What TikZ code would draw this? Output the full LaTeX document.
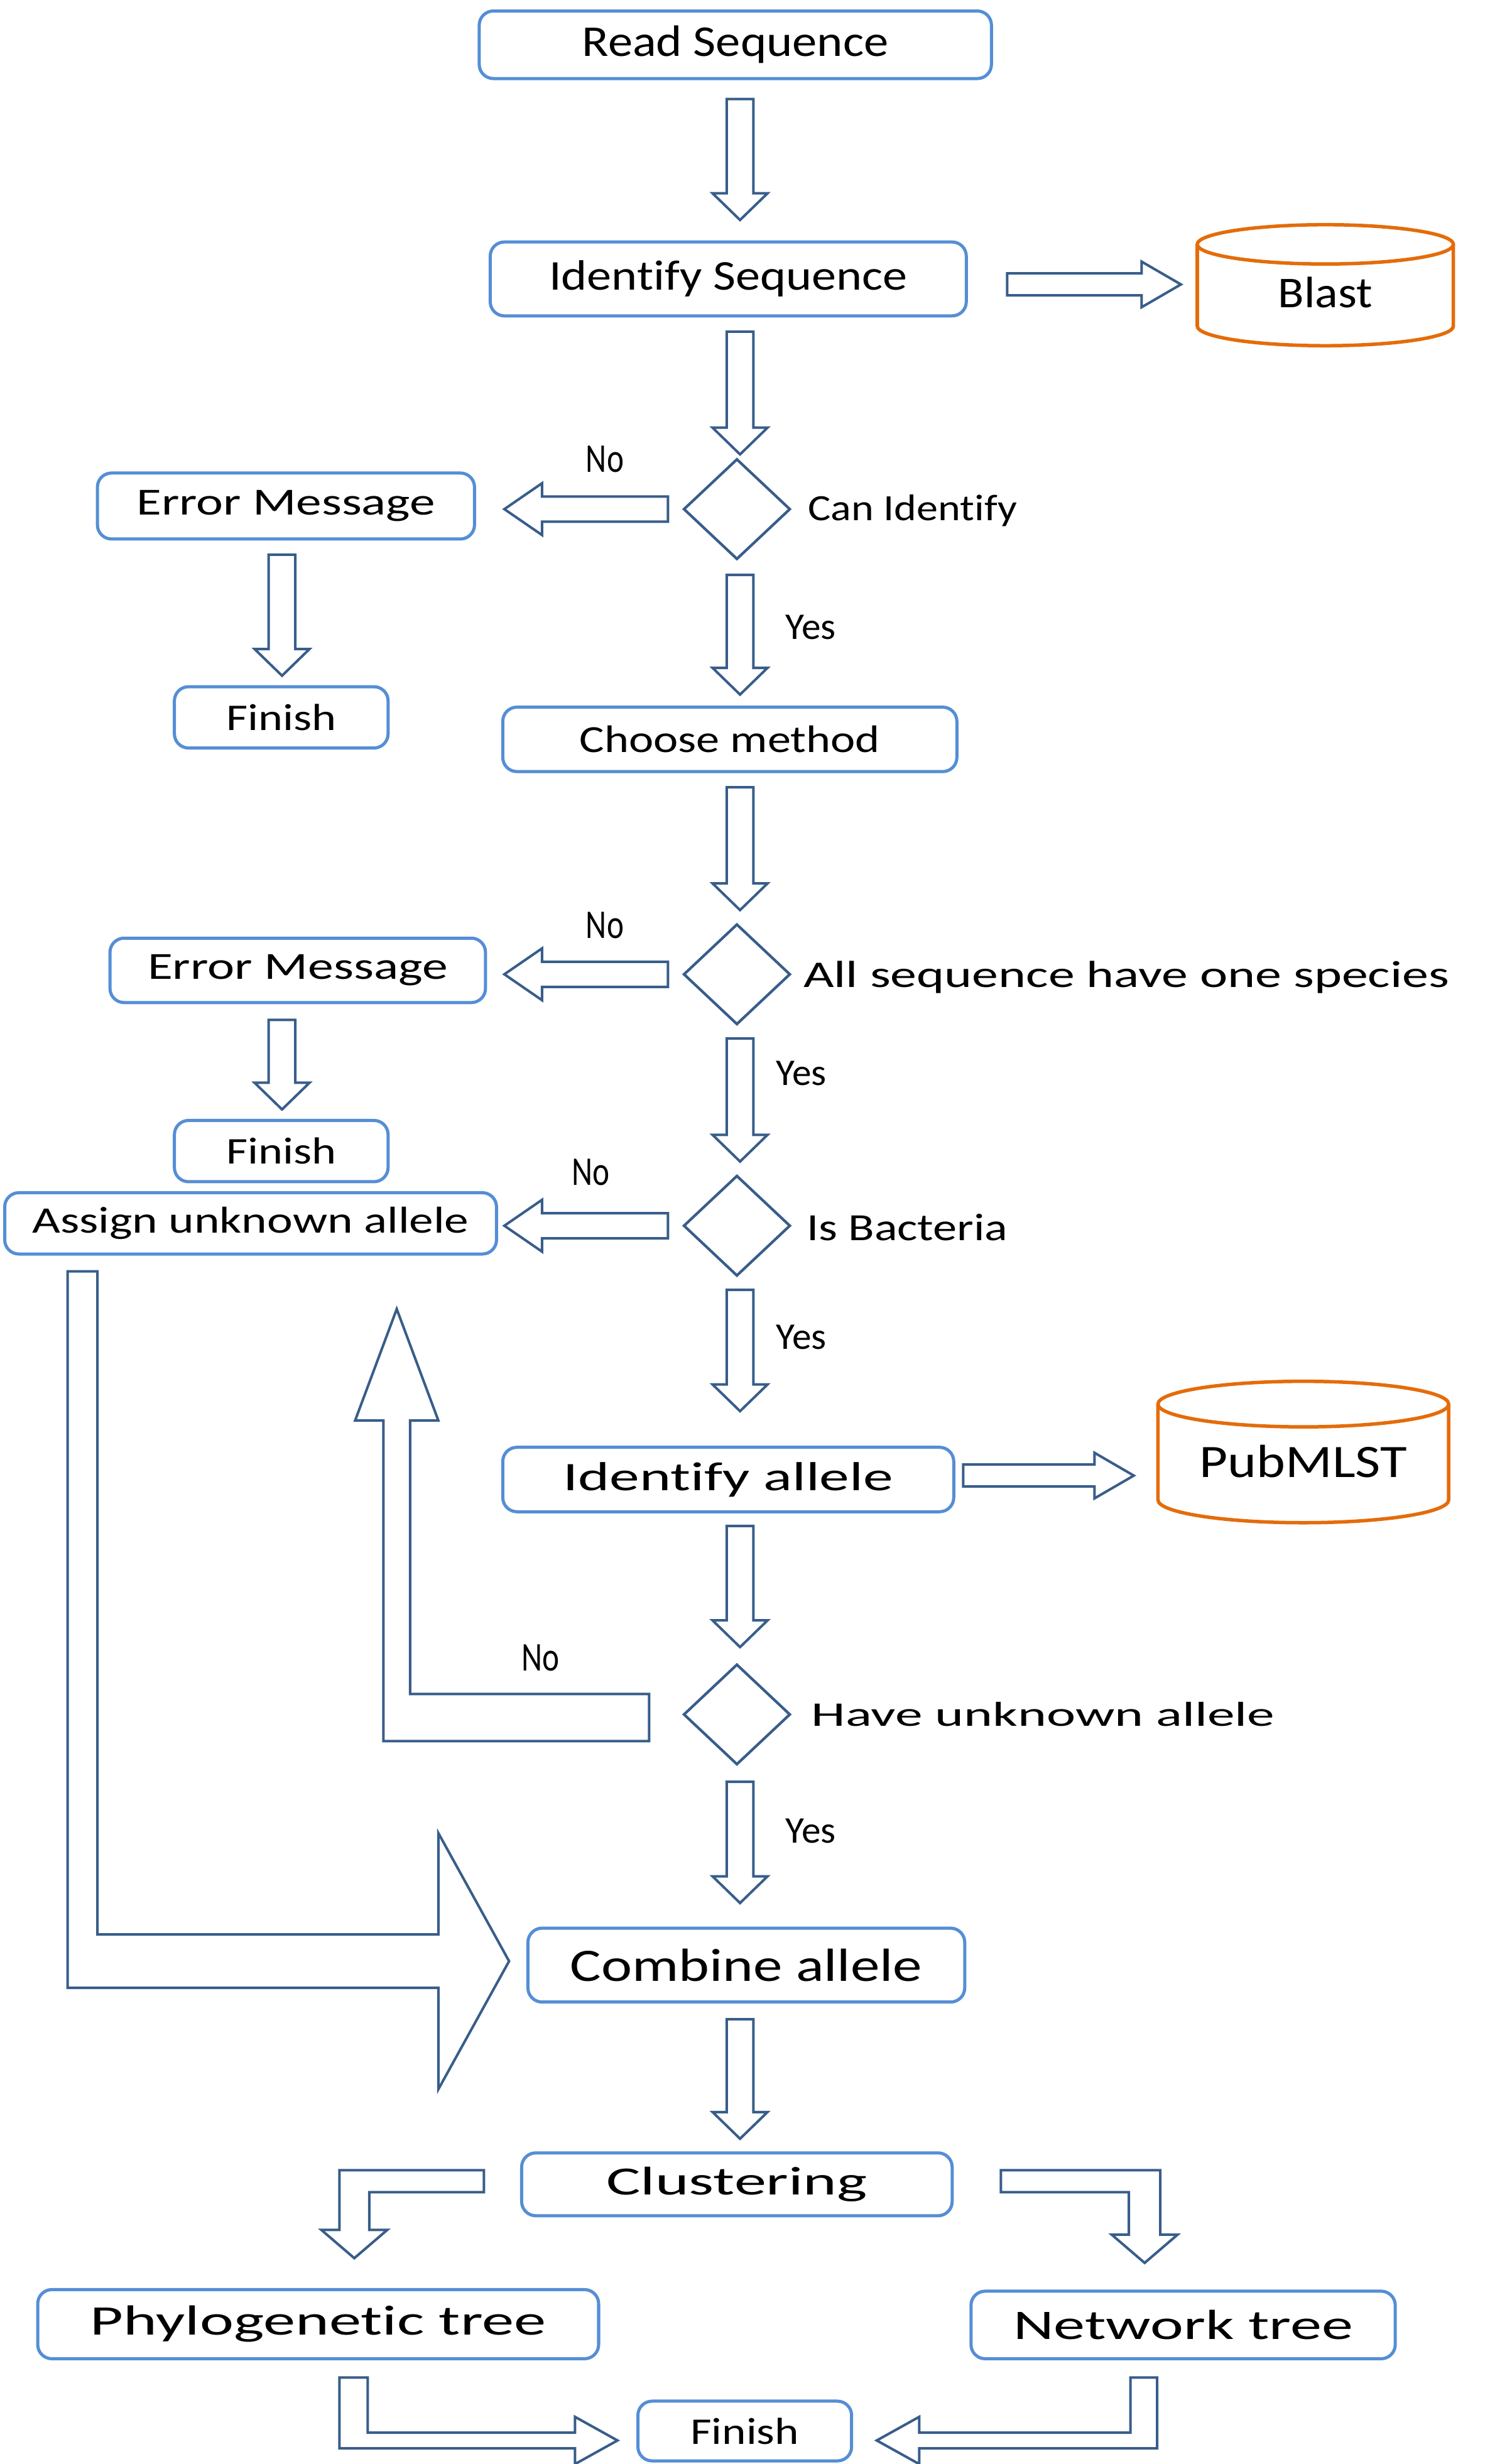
\documentclass[tikz,border=0pt]{standalone}
\usepackage{fontspec}
\setmainfont[Ligatures=NoCommon]{Carlito}
\usepackage{graphicx}
\usepackage{tikz}
\usetikzlibrary{shapes.geometric,calc}

\definecolor{boxblue}{HTML}{558ED5}
\definecolor{arrowblue}{HTML}{385D8A}
\definecolor{dborange}{HTML}{E46C0A}

\newcommand{\sz}[1]{\fontsize{#1}{#1}\selectfont}
\newcommand{\stretchto}[2]{\resizebox{#1pt}{\height}{#2}}

\tikzset{
  procbox/.style={draw=boxblue, line width=1pt, rounded corners=4.5pt, inner sep=0pt},
  decision/.style={diamond, draw=arrowblue, line width=0.85pt, minimum width=34pt, minimum height=32pt, inner sep=0pt},
  blockarrow/.style={draw=arrowblue, line width=0.8pt, fill=white, line join=miter},
  dbline/.style={draw=dborange, line width=1.1pt},
  dbtext/.style={inner sep=0pt},
  cond/.style={inner sep=0pt, anchor=west},
  answer/.style={inner sep=0pt}
}

% hollow block arrows: #1 start, #2 tip
\newcommand{\arrdown}[2]{\draw[blockarrow] let \p1=(#1), \p2=(#2) in
  (\x1-4.25pt,\y1) -- (\x1+4.25pt,\y1) -- (\x1+4.25pt,\y2+8.5pt) -- (\x1+8.75pt,\y2+8.5pt)
  -- (\x1,\y2) -- (\x1-8.75pt,\y2+8.5pt) -- (\x1-4.25pt,\y2+8.5pt) -- cycle;}
\newcommand{\arrleft}[2]{\draw[blockarrow] let \p1=(#1), \p2=(#2) in
  (\x1,\y1+4pt) -- (\x2+12pt,\y1+4pt) -- (\x2+12pt,\y1+8.25pt) -- (\x2,\y1)
  -- (\x2+12pt,\y1-8.25pt) -- (\x2+12pt,\y1-4pt) -- (\x1,\y1-4pt) -- cycle;}
\newcommand{\arrright}[2]{\draw[blockarrow] let \p1=(#1), \p2=(#2) in
  (\x1,\y1+3.5pt) -- (\x2-12.5pt,\y1+3.5pt) -- (\x2-12.5pt,\y1+7.25pt) -- (\x2,\y1)
  -- (\x2-12.5pt,\y1-7.25pt) -- (\x2-12.5pt,\y1-3.5pt) -- (\x1,\y1-3.5pt) -- cycle;}

\begin{document}
\begin{tikzpicture}[x=0.5pt,y=-0.5pt]
  \useasboundingbox (0,0) rectangle (948,1568);

  % boxes
  \node[procbox, minimum width=163pt, minimum height=21.5pt, font=\sz{14}] (read) at (468,28.5) {\stretchto{97.5}{Read Sequence}};
  \node[procbox, minimum width=151.5pt, minimum height=23.5pt, font=\sz{13.5}] (ident) at (463.5,177.5) {\stretchto{114}{Identify Sequence}};
  \node[procbox, minimum width=120pt, minimum height=21pt, font=\sz{12.2}] (err1) at (182,322) {\stretchto{95}{Error Message}};
  \node[procbox, minimum width=68pt, minimum height=19.5pt, font=\sz{12}] (fin1) at (179,456.5) {\stretchto{35}{Finish}};
  \node[procbox, minimum width=144.5pt, minimum height=20.5pt, font=\sz{12.2}] (choose) at (464.5,470.5) {\stretchto{95.5}{Choose method}};
  \node[procbox, minimum width=119.5pt, minimum height=20.5pt, font=\sz{12.2}] (err2) at (189.5,617.5) {\stretchto{95.5}{Error Message}};
  \node[procbox, minimum width=68pt, minimum height=19.5pt, font=\sz{12}] (fin2) at (179,732.5) {\stretchto{35}{Finish}};
  \node[procbox, minimum width=156.5pt, minimum height=19.5pt, font=\sz{11.9}] (assign) at (159.5,778.5) {\stretchto{139}{Assign unknown allele}};
  \node[procbox, minimum width=143.5pt, minimum height=20.5pt, font=\sz{12.9}] (idal) at (463.5,941.5) {\stretchto{105}{Identify allele}};
  \node[procbox, minimum width=139pt, minimum height=23.5pt, font=\sz{14.8}] (comb) at (475,1250.5) {\stretchto{112}{Combine allele}};
  \node[procbox, minimum width=137pt, minimum height=20pt, font=\sz{12.75}] (clus) at (469,1390) {\stretchto{83}{Clustering}};
  \node[procbox, minimum width=178.5pt, minimum height=22pt, font=\sz{13.4}] (phylo) at (202.5,1479) {\stretchto{145}{Phylogenetic tree}};
  \node[procbox, minimum width=135pt, minimum height=21.5pt, font=\sz{13.4}] (net) at (753,1479.5) {\stretchto{108}{Network tree}};
  \node[procbox, minimum width=68pt, minimum height=19pt, font=\sz{12}] (fin3) at (474,1547) {\stretchto{34.5}{Finish}};

  % decisions
  \node[decision] (can) at (469,324) {};
  \node[decision] (species) at (469,620) {};
  \node[decision] (bact) at (469,780) {};
  \node[decision] (unk) at (469,1091) {};
  \node[cond, font=\sz{11.8}] (canlbl) at (514,325) {\stretchto{66.5}{Can Identify}};
  \node[cond, font=\sz{12}] (specieslbl) at (511,622) {\stretchto{205.5}{All sequence have one species}};
  \node[cond, font=\sz{12.25}] (bactlbl) at (513,781) {\stretchto{64}{Is Bacteria}};
  \node[cond, font=\sz{11}] (unklbl) at (516,1091) {\stretchto{147.5}{Have unknown allele}};

  % databases
  \node[dbtext, minimum width=81.5pt, font=\sz{14}] (blast) at (843.5,186) {\stretchto{30}{Blast}};
  \draw[dbline] ($(blast)+(0,-30.5)$) ellipse [x radius=81.5, y radius=12.5];
  \draw[dbline] ($(blast)+(-81.5,-30.5)$) -- ($(blast)+(-81.5,21.5)$)
    arc [start angle=180, end angle=0, x radius=81.5, y radius=12.5] -- ($(blast)+(81.5,-30.5)$);
  \node[dbtext, minimum width=92.5pt, font=\sz{14.8}] (pub) at (829.5,930) {\stretchto{66}{PubMLST}};
  \draw[dbline] ($(pub)+(0,-36.5)$) ellipse [x radius=92.5, y radius=14.5];
  \draw[dbline] ($(pub)+(-92.5,-36.5)$) -- ($(pub)+(-92.5,24.5)$)
    arc [start angle=180, end angle=0, x radius=92.5, y radius=14.5] -- ($(pub)+(92.5,-36.5)$);

  % straight arrows
  \arrdown{$(read.south)+(3,12)$}{$(ident.north)+(0,-13)$}
  \arrdown{$(ident.south)+(7.5,9)$}{$(can.north)+(0,-2)$}
  \arrdown{$(can.south)+(2,9)$}{$(choose.north)+(0,-7)$}
  \arrdown{$(choose.south)+(6.5,9)$}{$(species.north)+(0,-8)$}
  \arrdown{$(species.south)+(2,8)$}{$(bact.north)+(0,-8)$}
  \arrdown{$(bact.south)+(2,8)$}{$(idal.north)+(0,-22)$}
  \arrdown{$(idal.south)+(7.5,8)$}{$(unk.north)+(0,-10)$}
  \arrdown{$(unk.south)+(2,10)$}{$(comb.north)+(0,-15)$}
  \arrdown{$(comb.south)+(-4,10)$}{$(clus.north)+(0,-8)$}
  \arrdown{$(err1.south)+(-2.5,9)$}{$(fin1.north)+(0,-6)$}
  \arrdown{$(err2.south)+(-10,10)$}{$(fin2.north)+(0,-6)$}
  \arrleft{$(can.west)+(-9,0)$}{$(err1.east)+(18,0)$}
  \arrleft{$(species.west)+(-9,0)$}{$(err2.east)+(11,0)$}
  \arrleft{$(bact.west)+(-9,0)$}{$(assign.east)+(4,0)$}
  \arrright{$(ident.east)+(25,3.5)$}{$(blast.west)+(-10,0)$}
  \arrright{$(idal.east)+(5,-2.5)$}{$(pub.west)+(-15,0)$}

  % bent arrows
  \draw[blockarrow] let \p1=($(unk.west)+(-21,2)$), \p2=($(assign.south)+(93,34)$) in
    (\x1,\y1+7.5pt) -- (\x2+4.25pt,\y1+7.5pt) -- (\x2+4.25pt,\y2-35.5pt) -- (\x2+13.25pt,\y2-35.5pt)
    -- (\x2,\y2) -- (\x2-13.25pt,\y2-35.5pt) -- (\x2-4.25pt,\y2-35.5pt) -- (\x2-4.25pt,\y1-7.5pt)
    -- (\x1,\y1-7.5pt) -- cycle;
  \draw[blockarrow] let \p1=($(assign.south)+(-107,10)$), \p2=($(comb.west)+(-11,-2.5)$) in
    (\x1+4.75pt,\y1) -- (\x1+4.75pt,\y2+8.5pt) -- (\x2-22.5pt,\y2+8.5pt) -- (\x2-22.5pt,\y2+40.75pt)
    -- (\x2,\y2) -- (\x2-22.5pt,\y2-40.75pt) -- (\x2-22.5pt,\y2-8.5pt) -- (\x1-4.75pt,\y2-8.5pt)
    -- (\x1-4.75pt,\y1) -- cycle;
  \draw[blockarrow] let \p1=($(clus.west)+(-23,-2)$), \p2=($(phylo.north)+(23,-19)$) in
    (\x1,\y1+3.5pt) -- (\x2-4.75pt,\y1+3.5pt) -- (\x2-4.75pt,\y2+9pt) -- (\x2-10.5pt,\y2+9pt)
    -- (\x2,\y2) -- (\x2+10.5pt,\y2+9pt) -- (\x2+4.75pt,\y2+9pt) -- (\x2+4.75pt,\y1-3.5pt)
    -- (\x1,\y1-3.5pt) -- cycle;
  \draw[blockarrow] let \p1=($(clus.east)+(30,-2)$), \p2=($(net.north)+(-24.5,-17)$) in
    (\x1,\y1+3.5pt) -- (\x2+5pt,\y1+3.5pt) -- (\x2+5pt,\y2+9pt) -- (\x2+10.5pt,\y2+9pt)
    -- (\x2,\y2) -- (\x2-10.5pt,\y2+9pt) -- (\x2-5pt,\y2+9pt) -- (\x2-5pt,\y1-3.5pt)
    -- (\x1,\y1-3.5pt) -- cycle;
  \draw[blockarrow] let \p1=($(phylo.south)+(22.5,11)$), \p2=($(fin3.west)+(-12,6)$) in
    (\x1-4.5pt,\y1) -- (\x1+4.5pt,\y1) -- (\x1+4.5pt,\y2+2.5pt) -- (\x2-13.5pt,\y2+2.5pt)
    -- (\x2-13.5pt,\y2+7.5pt) -- (\x2,\y2) -- (\x2-13.5pt,\y2-7.5pt) -- (\x2-13.5pt,\y2-2.5pt)
    -- (\x1-4.5pt,\y2-2.5pt) -- cycle;
  \draw[blockarrow] let \p1=($(net.south)+(-25,11)$), \p2=($(fin3.east)+(15,6)$) in
    (\x1+4.25pt,\y1) -- (\x1-4.25pt,\y1) -- (\x1-4.25pt,\y2+2.5pt) -- (\x2+13.5pt,\y2+2.5pt)
    -- (\x2+13.5pt,\y2+7.5pt) -- (\x2,\y2) -- (\x2+13.5pt,\y2-7.5pt) -- (\x2+13.5pt,\y2-2.5pt)
    -- (\x1+4.25pt,\y2-2.5pt) -- cycle;

  % yes / no
  \node[answer, font=\sz{13}] (no1) at (385,292) {\stretchto{12}{No}};
  \node[answer, font=\sz{13}] (no2) at (385,589) {\stretchto{12}{No}};
  \node[answer, font=\sz{13}] (no3) at (376,746) {\stretchto{12}{No}};
  \node[answer, font=\sz{13}] (no4) at (344,1055) {\stretchto{12}{No}};
  \node[answer, font=\sz{12}] (yes1) at (516,399) {\stretchto{16}{Yes}};
  \node[answer, font=\sz{12}] (yes2) at (510,683) {\stretchto{16}{Yes}};
  \node[answer, font=\sz{12}] (yes3) at (510,851) {\stretchto{16}{Yes}};
  \node[answer, font=\sz{12}] (yes4) at (516,1165) {\stretchto{16}{Yes}};
\end{tikzpicture}
\end{document}
